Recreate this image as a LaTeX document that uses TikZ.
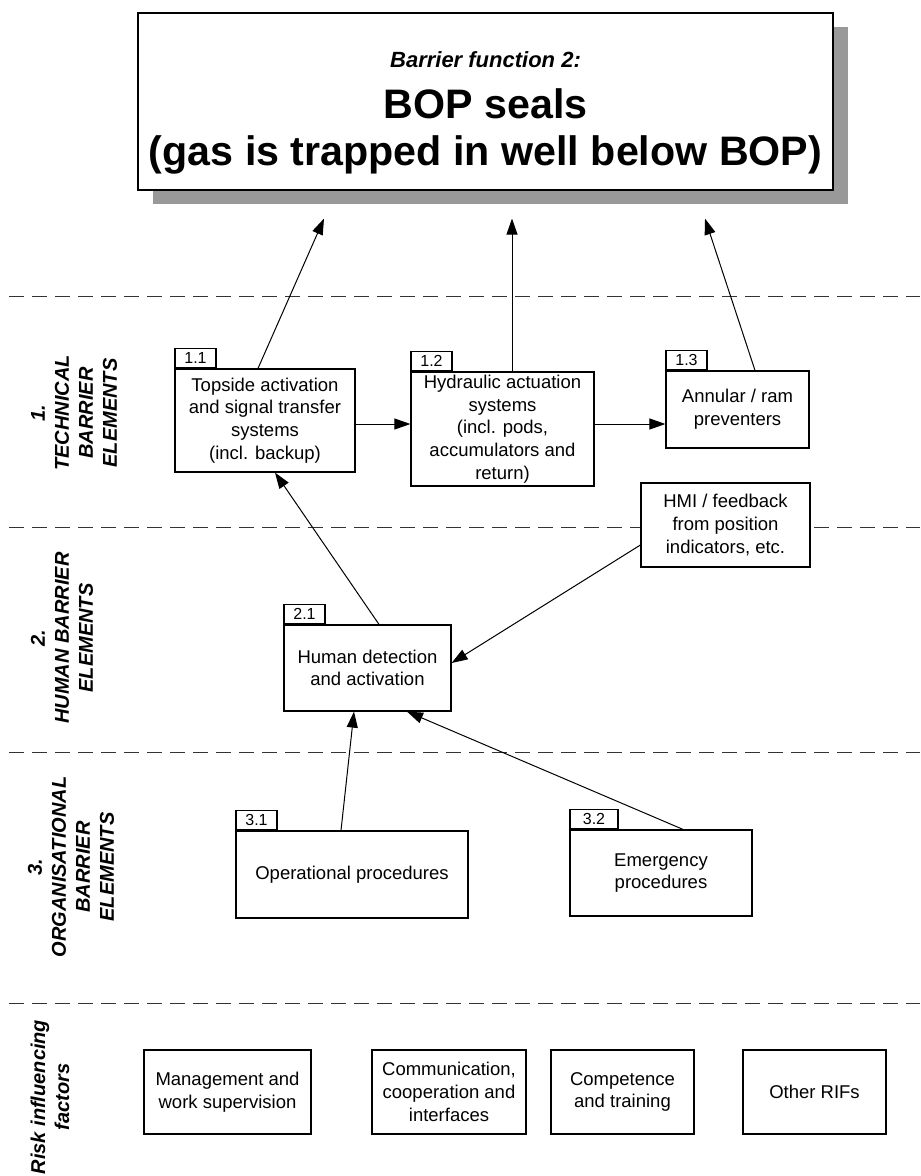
\documentclass[tikz,border=0pt]{standalone}
\usepackage{fontspec}
\setmainfont{Liberation Sans}
\usepackage{tikz}
\usetikzlibrary{arrows.meta, positioning, shadows}
\tikzstyle{elem} = [rectangle, draw=black, line width=0.6pt, fill=white, inner sep=1pt, align=center, font=\fontsize{9.25}{11.35}\selectfont]
\tikzstyle{tab} = [rectangle, draw=black, line width=0.6pt, fill=white, minimum width=20.5pt, minimum height=9.5pt, inner sep=0pt, font=\fontsize{8}{9}\selectfont]
\tikzstyle{titlebox} = [rectangle, draw=black, line width=0.6pt, fill=white, align=center, minimum width=347.5pt, minimum height=88.5pt, drop shadow={shadow xshift=7.5pt, shadow yshift=-7pt, fill=black!40, opacity=1}, font=\fontsize{20.6}{23.5}\selectfont\bfseries]
\tikzstyle{tier} = [rotate=90, align=center, font=\fontsize{10}{12}\selectfont\bfseries\itshape]
\tikzstyle{tierline} = [dash pattern=on 7.5pt off 4pt, draw=black!80, line width=0.5pt]
\tikzstyle{arrow} = [line width=0.5pt, -{Triangle[length=8pt,width=5.5pt]}]

\begin{document}
\begin{tikzpicture}[x=0.5pt, y=-0.5pt]
\useasboundingbox (0,0) rectangle (920,1176);

% Barrier function
\node (title) [titlebox] at (485.5,101.5) {\rule{0pt}{19pt}{\fontsize{11}{13}\selectfont\itshape Barrier function 2:}\\[2pt]
BOP seals\\(gas is trapped in well below BOP)};

% Tier lines
\foreach \y in {297,527,752,1003}
  \draw [tierline] (9,\y) -- (920,\y);

% Tier labels
\node (lab1) [tier] at (74,413) {1.\\TECHNICAL\\BARRIER\\ELEMENTS};
\node (lab2) [tier] at (62,638) {2.\\HUMAN BARRIER\\ELEMENTS};
\node (lab3) [tier] at (71,867) {3.\\ORGANISATIONAL\\BARRIER\\ELEMENTS};
\node (lab4) [tier] at (50,1097) {Risk influencing\\factors};

% Technical barrier elements
\node (b11) [elem, minimum width=90pt, minimum height=51.5pt] at (265,420.5) {Topside activation\\and signal transfer\\systems\\(incl. backup)};
\node (b12) [elem, minimum width=91.5pt, minimum height=57pt] at (502.5,429) {Hydraulic actuation\\systems\\(incl. pods,\\accumulators and\\return)};
\node (b13) [elem, minimum width=71.5pt, minimum height=38.5pt] at (737.5,409.5) {Annular / ram\\preventers};
\node (t11) [tab, above right=0pt of b11.north west] {1.1};
\node (t12) [tab, above right=0pt of b12.north west] {1.2};
\node (t13) [tab, above right=0pt of b13.north west] {1.3};
\node (hmi) [elem, minimum width=84.5pt, minimum height=42pt] at (725.5,525) {HMI / feedback\\from position\\indicators, etc.};

% Human barrier elements
\node (b21) [elem, minimum width=83.5pt, minimum height=43pt] at (367.5,668) {Human detection\\and activation};
\node (t21) [tab, above right=0pt of b21.north west] {2.1};

% Organisational barrier elements
\node (b31) [elem, minimum width=116pt, minimum height=43.5pt] at (352,874.5) {Operational procedures};
\node (b32) [elem, minimum width=91pt, minimum height=43pt] at (661,873) {Emergency\\procedures};
\node (t31) [tab, above right=0pt of b31.north west] {3.1};
\node (t32) [tab, minimum width=24pt, above right=0pt of b32.north west] {3.2};

% Risk influencing factors
\node (rif1) [elem, minimum width=83.5pt, minimum height=42pt] at (227.5,1092) {Management and\\work supervision};
\node (rif2) [elem, minimum width=77pt, minimum height=42pt] at (449,1092) {Communication,\\cooperation and\\interfaces};
\node (rif3) [elem, minimum width=71.5pt, minimum height=42pt] at (622.5,1092) {Competence\\and training};
\node (rif4) [elem, minimum width=71.5pt, minimum height=42pt] at (814.5,1092) {Other RIFs};

% Arrows to barrier function
\draw [arrow] ([xshift=-3.5pt]b11.north) -- ([xshift=-80.75pt,yshift=-14pt]title.south);
\draw [arrow] ([xshift=4.75pt]b12.north) -- ([xshift=13.25pt,yshift=-14pt]title.south);
\draw [arrow] ([xshift=8.75pt]b13.north) -- ([xshift=109.75pt,yshift=-14pt]title.south);

% Arrows technical
\draw [arrow] ([yshift=-1.75pt]b11.east) -- ([yshift=2.5pt]b12.west);
\draw [arrow] ([yshift=2.5pt]b12.east) -- ([yshift=-7.25pt]b13.west);

% Arrows human
\draw [arrow] ([xshift=5.75pt]b21.north) -- ([xshift=5pt]b11.south);
\draw [arrow] ([yshift=-10pt]hmi.west) -- ([yshift=2.5pt]b21.east);

% Arrows organisational
\draw [arrow] ([xshift=-5.5pt]b31.north) -- ([xshift=-6.75pt]b21.south);
\draw [arrow] ([xshift=11pt]b32.north) -- ([xshift=19.75pt]b21.south);

\end{tikzpicture}
\end{document}
